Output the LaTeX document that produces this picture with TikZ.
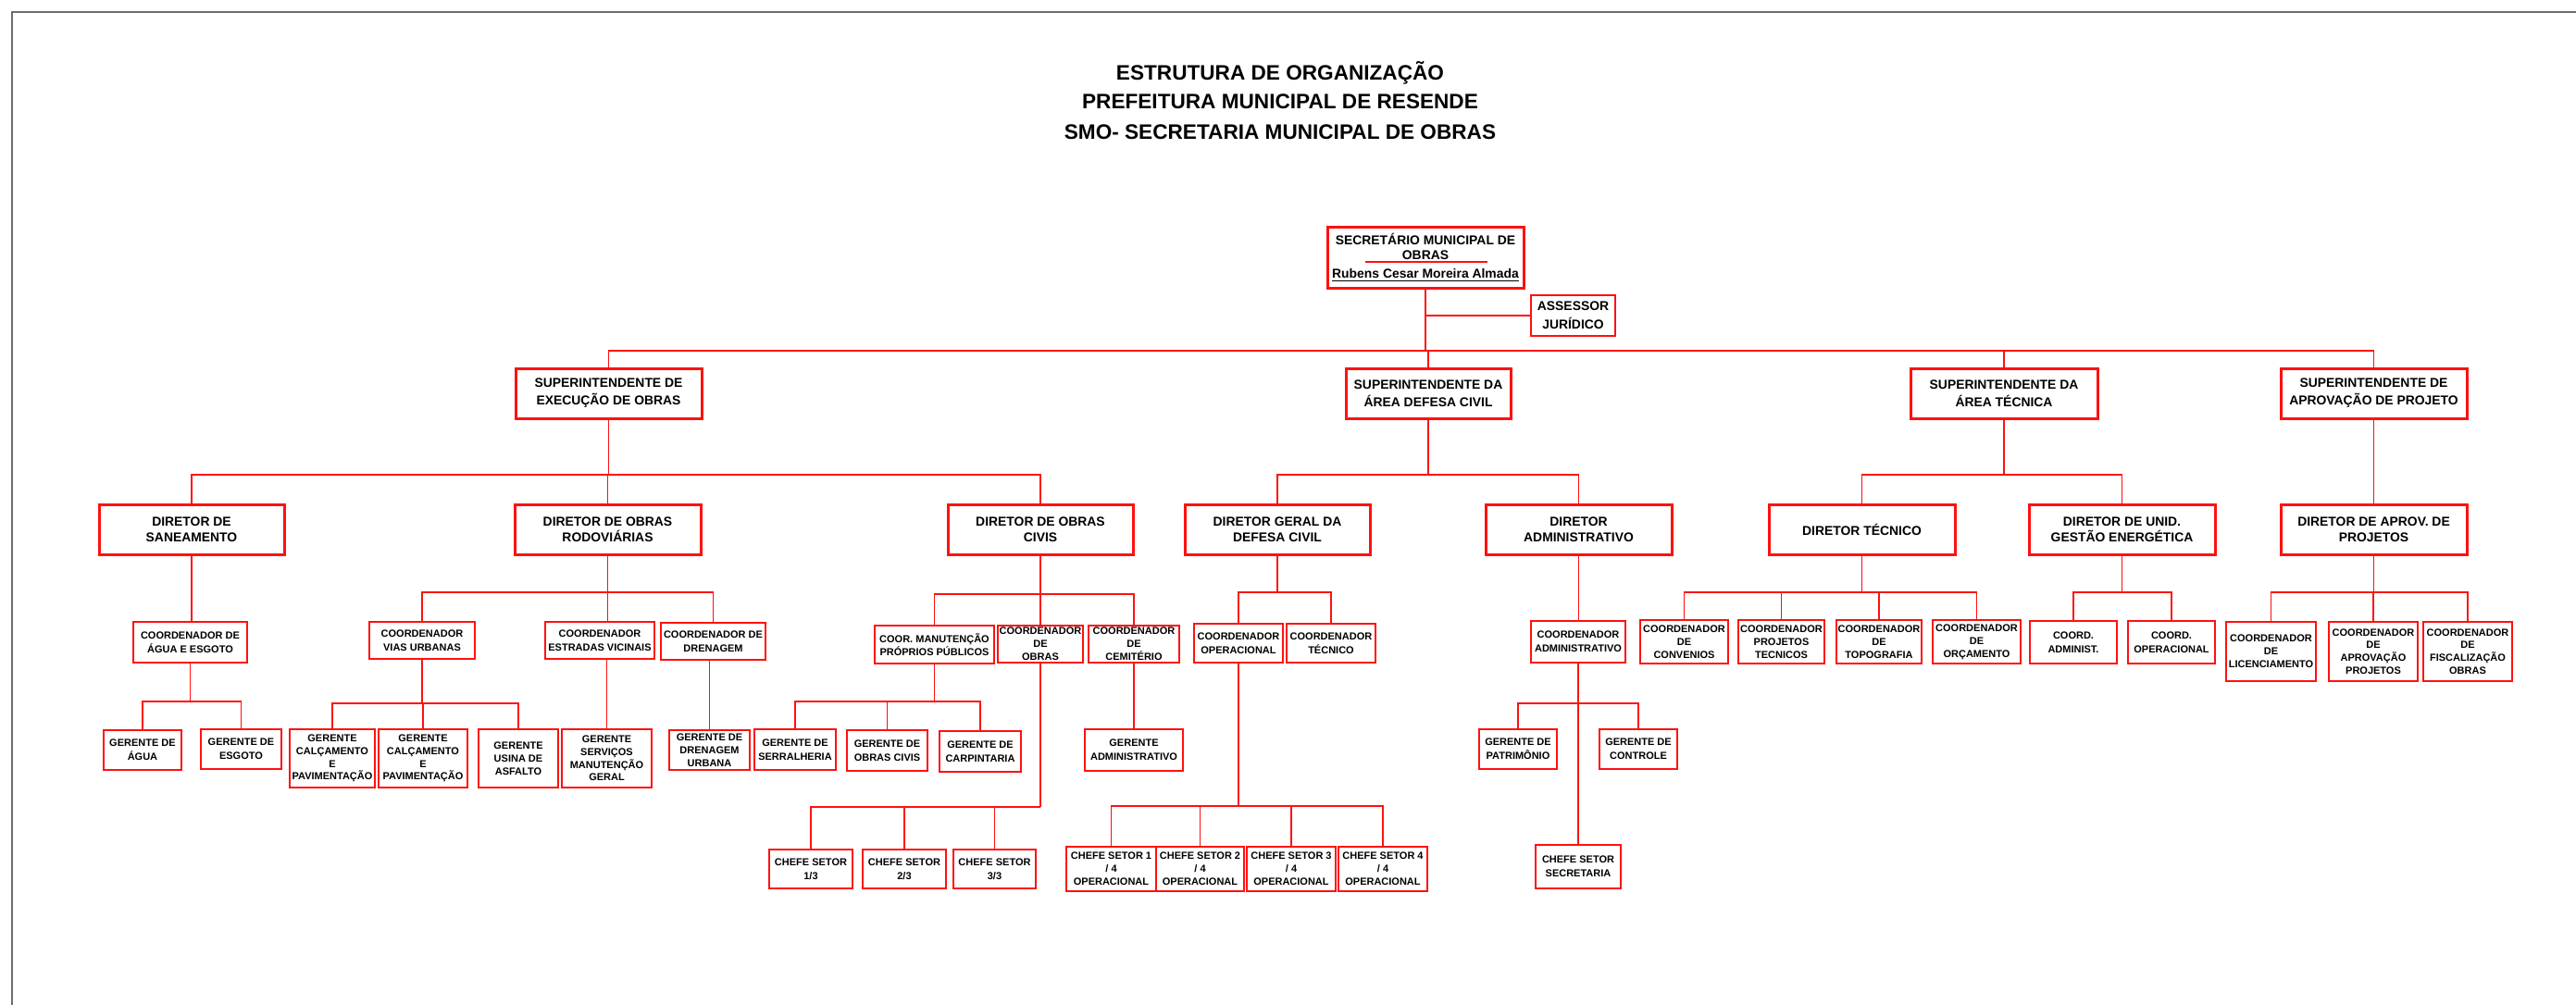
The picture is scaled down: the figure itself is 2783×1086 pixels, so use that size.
\documentclass[tikz,border=0pt]{standalone}
\usepackage{fontspec}
\setmainfont{Liberation Sans}
\usetikzlibrary{calc}
\definecolor{orgred}{HTML}{FF1010}
\definecolor{framegray}{HTML}{6E6E6E}
\tikzset{
  conn/.style={draw=orgred, line width=0.85pt},
  topbox/.style 2 args={draw=orgred, line width=1.5pt, fill=white, align=center, inner sep=0pt,
    minimum width=#1*0.5pt, minimum height=#2*0.5pt, font=\bfseries\fontsize{6.95}{9.5}\selectfont},
  dirbox/.style 2 args={topbox={#1}{#2}, font=\bfseries\fontsize{6.95}{8.75}\selectfont},
  unitbox/.style 2 args={draw=orgred, line width=0.75pt, fill=white, align=center, inner sep=0pt,
    minimum width=#1*0.5pt, minimum height=#2*0.5pt, font=\bfseries\fontsize{5.5}{6.9}\selectfont},
  loose/.style={font=\bfseries\fontsize{5.5}{7.3}\selectfont},
  titletext/.style={anchor=base, inner sep=0pt, font=\bfseries\fontsize{11.3}{14}\selectfont},
}
\begin{document}
\begin{tikzpicture}[x=0.5pt,y=-0.5pt]
\useasboundingbox (0,0) rectangle (2783,1086);
\fill[white] (0,0) rectangle (2783,1086);
% page frame
\draw[framegray, line width=1.1pt] (13,1086) -- (13,13) -- (2783,13);

% title
\node[titletext] (t1) at (1383,87) {ESTRUTURA DE ORGANIZAÇÃO};
\node[titletext] (t2) at (1383,118) {PREFEITURA MUNICIPAL DE RESENDE};
\node[titletext] (t3) at (1383,150) {SMO- SECRETARIA MUNICIPAL DE OBRAS};

% top
\node[topbox={212}{66}, font=\bfseries\fontsize{6.95}{8}\selectfont] (sec) at (1540,278)
  {SECRETÁRIO MUNICIPAL DE\\OBRAS\\[2pt]\underline{Rubens Cesar Moreira Almada}};
\draw[orgred, line width=0.7pt] ($(sec.center)+(-65,5)$) -- ($(sec.center)+(67,5)$);
\node[unitbox={91}{44}, font=\bfseries\fontsize{6.95}{10}\selectfont] (ass) at (1699.5,341) {ASSESSOR\\JURÍDICO};

% superintendents
\node[topbox={201}{54}] (supExec) at (657.5,425) {SUPERINTENDENTE DE\\EXECUÇÃO DE OBRAS};
\node[topbox={178}{54}] (supDef) at (1543,425) {SUPERINTENDENTE DA\\ÁREA DEFESA CIVIL};
\node[topbox={202}{54}] (supTec) at (2165,425) {SUPERINTENDENTE DA\\ÁREA TÉCNICA};
\node[topbox={201}{54}] (supApr) at (2564.5,425) {SUPERINTENDENTE DE\\APROVAÇÃO DE PROJETO};

% directors
\node[dirbox={200}{54}] (dirSan) at (207,572) {DIRETOR DE\\SANEAMENTO};
\node[dirbox={201}{54}] (dirRod) at (656.5,572) {DIRETOR DE OBRAS\\RODOVIÁRIAS};
\node[dirbox={200}{54}] (dirCiv) at (1124,572) {DIRETOR DE OBRAS\\CIVIS};
\node[dirbox={200}{54}] (dirDef) at (1380,572) {DIRETOR GERAL DA\\DEFESA CIVIL};
\node[dirbox={201}{54}] (dirAdm) at (1705.5,572) {DIRETOR\\ADMINISTRATIVO};
\node[dirbox={201}{54}] (dirTec) at (2011.5,572) {DIRETOR TÉCNICO};
\node[dirbox={201}{54}] (dirGes) at (2292.5,572) {DIRETOR DE UNID.\\GESTÃO ENERGÉTICA};
\node[dirbox={201}{54}] (dirApr) at (2564.5,572) {DIRETOR DE APROV. DE\\PROJETOS};

% coordinators
\node[unitbox={123}{44}, loose] (cAgua) at (205.5,694) {COORDENADOR DE\\ÁGUA E ESGOTO};
\node[unitbox={114}{40}, loose] (cVias) at (456,692) {COORDENADOR\\VIAS URBANAS};
\node[unitbox={118}{40}, loose] (cEstr) at (648,692) {COORDENADOR\\ESTRADAS VICINAIS};
\node[unitbox={113}{40}, loose] (cDren) at (770.5,693) {COORDENADOR DE\\DRENAGEM};
\node[unitbox={129}{41}, loose] (cMan) at (1009.5,696.5) {COOR. MANUTENÇÃO\\PRÓPRIOS PÚBLICOS};
\node[unitbox={92}{40}] (cObr) at (1124,696) {COORDENADOR\\DE\\OBRAS};
\node[unitbox={98}{40}] (cCem) at (1225,696) {COORDENADOR\\DE\\CEMITÉRIO};
\node[unitbox={96}{42}, loose] (cOpe) at (1338,695) {COORDENADOR\\OPERACIONAL};
\node[unitbox={96}{42}, loose] (cTec) at (1438,695) {COORDENADOR\\TÉCNICO};
\node[unitbox={102}{45}, loose] (cAdm) at (1705,693.5) {COORDENADOR\\ADMINISTRATIVO};
\node[unitbox={95}{47}] (cConv) at (1819.5,693.5) {COORDENADOR\\DE\\CONVENIOS};
\node[unitbox={93}{47}] (cProj) at (1924.5,693.5) {COORDENADOR\\PROJETOS\\TECNICOS};
\node[unitbox={92}{47}] (cTopo) at (2030,693.5) {COORDENADOR\\DE\\TOPOGRAFIA};
\node[unitbox={95}{47}] (cOrc) at (2135.5,693.5) {COORDENADOR\\DE\\ORÇAMENTO};
\node[unitbox={94}{46}, loose] (cCAdm) at (2240,694) {COORD.\\ADMINIST.};
\node[unitbox={94}{46}, loose] (cCOpe) at (2346,694) {COORD.\\OPERACIONAL};
\node[unitbox={97}{64}] (cLic) at (2453.5,704) {COORDENADOR\\DE\\LICENCIAMENTO};
\node[unitbox={96}{64}] (cApr) at (2564,704) {COORDENADOR\\DE\\APROVAÇÃO\\PROJETOS};
\node[unitbox={96}{64}] (cFis) at (2666,704) {COORDENADOR\\DE\\FISCALIZAÇÃO\\OBRAS};

% managers
\node[unitbox={84}{43}, loose] (gAgua) at (154,810.5) {GERENTE DE\\ÁGUA};
\node[unitbox={87}{43}, loose] (gEsg) at (260.5,809.5) {GERENTE DE\\ESGOTO};
\node[unitbox={92}{63}] (gCal1) at (359,819.5) {GERENTE\\CALÇAMENTO\\E\\PAVIMENTAÇÃO};
\node[unitbox={96}{63}] (gCal2) at (457,819.5) {GERENTE\\CALÇAMENTO\\E\\PAVIMENTAÇÃO};
\node[unitbox={86}{63}] (gUsi) at (560,819.5) {GERENTE\\USINA DE\\ASFALTO};
\node[unitbox={97}{63}] (gServ) at (655.5,819.5) {GERENTE\\SERVIÇOS\\MANUTENÇÃO\\GERAL};
\node[unitbox={87}{43}] (gDren) at (766.5,810.5) {GERENTE DE\\DRENAGEM\\URBANA};
\node[unitbox={88}{44}, loose] (gSerr) at (859,810) {GERENTE DE\\SERRALHERIA};
\node[unitbox={87}{44}, loose] (gObrC) at (958.5,811) {GERENTE DE\\OBRAS CIVIS};
\node[unitbox={88}{44}, loose] (gCarp) at (1059,812) {GERENTE DE\\CARPINTARIA};
\node[unitbox={106}{45}, loose] (gAdm) at (1225,810.5) {GERENTE\\ADMINISTRATIVO};
\node[unitbox={84}{43}, loose] (gPat) at (1640,809.5) {GERENTE DE\\PATRIMÔNIO};
\node[unitbox={84}{43}, loose] (gCtrl) at (1770,809.5) {GERENTE DE\\CONTROLE};

% section chiefs
\node[unitbox={90}{42}, loose] (ch13) at (876,939) {CHEFE SETOR\\1/3};
\node[unitbox={90}{42}, loose] (ch23) at (977,939) {CHEFE SETOR\\2/3};
\node[unitbox={89}{42}, loose] (ch33) at (1074.5,939) {CHEFE SETOR\\3/3};
\node[unitbox={97}{48}] (ch14) at (1200.5,939) {CHEFE SETOR 1\\/ 4\\OPERACIONAL};
\node[unitbox={95}{48}] (ch24) at (1296.5,939) {CHEFE SETOR 2\\/ 4\\OPERACIONAL};
\node[unitbox={96}{48}] (ch34) at (1395,939) {CHEFE SETOR 3\\/ 4\\OPERACIONAL};
\node[unitbox={96}{48}] (ch44) at (1494,939) {CHEFE SETOR 4\\/ 4\\OPERACIONAL};
\node[unitbox={92}{47}, loose] (chSec) at (1705,936.5) {CHEFE SETOR\\SECRETARIA};

% ---------- connectors ----------
% level 1
\coordinate (bTop) at (1540,379);
\coordinate (jAss) at (1540,341);
\draw[conn] (sec.south) -- (bTop);
\draw[conn] (jAss) -- (ass.west);
\draw[conn] (supExec.north) |- (bTop);
\draw[conn] (supApr.north) |- (bTop);
\draw[conn] (supDef.north) -- (supDef.north |- bTop);
\draw[conn] (supTec.north) -- (supTec.north |- bTop);

% superintendents to directors
\coordinate (bExec) at (657.5,513);
\draw[conn] (supExec.south) -- (bExec);
\draw[conn] (dirSan.north) |- (bExec);
\draw[conn] (dirCiv.north) |- (bExec);
\draw[conn] (dirRod.north) -- (dirRod.north |- bExec);

\coordinate (bDef) at (1543,513);
\draw[conn] (supDef.south) -- (bDef);
\draw[conn] (dirDef.north) |- (bDef);
\draw[conn] (dirAdm.north) |- (bDef);

\coordinate (bTec) at (2165,513);
\draw[conn] (supTec.south) -- (bTec);
\draw[conn] (dirTec.north) |- (bTec);
\draw[conn] (dirGes.north) |- (bTec);

\draw[conn] (supApr.south) -- (dirApr.north);

% saneamento
\draw[conn] (dirSan.south) -- (dirSan.south |- cAgua.north);
\coordinate (bAgua) at (205.5,758);
\draw[conn] (cAgua.south) -- (bAgua);
\draw[conn] (gAgua.north) |- (bAgua);
\draw[conn] (gEsg.north) |- (bAgua);

% rodoviarias
\coordinate (bRod) at (656.5,640);
\draw[conn] (dirRod.south) -- (bRod);
\draw[conn] (cVias.north) |- (bRod);
\draw[conn] (cDren.north) |- (bRod);
\draw[conn] (bRod) -- (bRod |- cEstr.north);
\coordinate (bVias) at (456,760);
\draw[conn] (cVias.south) -- (bVias);
\draw[conn] (gCal1.north) |- (bVias);
\draw[conn] (gUsi.north) |- (bVias);
\draw[conn] (gCal2.north) -- (gCal2.north |- bVias);
\draw[conn] (gServ.north) -- (gServ.north |- cEstr.south);
\draw[conn] (gDren.north) -- (gDren.north |- cDren.south);

% obras civis
\coordinate (bCiv) at (1124,642);
\draw[conn] (dirCiv.south) -- (bCiv);
\draw[conn] (cMan.north) |- (bCiv);
\draw[conn] (cCem.north) |- (bCiv);
\draw[conn] (cObr.north) -- (cObr.north |- bCiv);
\coordinate (bMan) at (1009.5,758);
\draw[conn] (cMan.south) -- (bMan);
\draw[conn] (gSerr.north) |- (bMan);
\draw[conn] (gCarp.north) |- (bMan);
\draw[conn] (gObrC.north) -- (gObrC.north |- bMan);
\coordinate (bObr) at (1124,872);
\draw[conn] (cObr.south) -- (bObr);
\draw[conn] (ch13.north) |- (bObr);
\draw[conn] (ch23.north) -- (ch23.north |- bObr);
\draw[conn] (ch33.north) -- (ch33.north |- bObr);
\draw[conn] (gAdm.north) -- (gAdm.north |- cCem.south);

% defesa civil
\coordinate (bDD) at (1380,640);
\draw[conn] (dirDef.south) -- (bDD);
\draw[conn] (cOpe.north) |- (bDD);
\draw[conn] (cTec.north) |- (bDD);
\coordinate (bOpe) at (1338,871);
\draw[conn] (cOpe.south) -- (bOpe);
\draw[conn] (ch14.north) |- (bOpe);
\draw[conn] (ch44.north) |- (bOpe);
\draw[conn] (ch24.north) -- (ch24.north |- bOpe);
\draw[conn] (ch34.north) -- (ch34.north |- bOpe);

% administrativo
\draw[conn] (dirAdm.south) -- (dirAdm.south |- cAdm.north);
\coordinate (bAdm) at (1705,760);
\draw[conn] (cAdm.south) -- (chSec.north);
\draw[conn] (gPat.north) |- (bAdm);
\draw[conn] (gCtrl.north) |- (bAdm);

% tecnico
\coordinate (bDT) at (2011.5,640);
\draw[conn] (dirTec.south) -- (bDT);
\draw[conn] (cConv.north) |- (bDT);
\draw[conn] (cOrc.north) |- (bDT);
\draw[conn] (cProj.north) -- (cProj.north |- bDT);
\draw[conn] (cTopo.north) -- (cTopo.north |- bDT);

% gestao energetica
\coordinate (bDG) at (2292.5,640);
\draw[conn] (dirGes.south) -- (bDG);
\draw[conn] (cCAdm.north) |- (bDG);
\draw[conn] (cCOpe.north) |- (bDG);

% aprovacao
\coordinate (bDA) at (2564.5,640);
\draw[conn] (dirApr.south) -- (bDA);
\draw[conn] (cLic.north) |- (bDA);
\draw[conn] (cFis.north) |- (bDA);
\draw[conn] (cApr.north) -- (cApr.north |- bDA);
\end{tikzpicture}
\end{document}
